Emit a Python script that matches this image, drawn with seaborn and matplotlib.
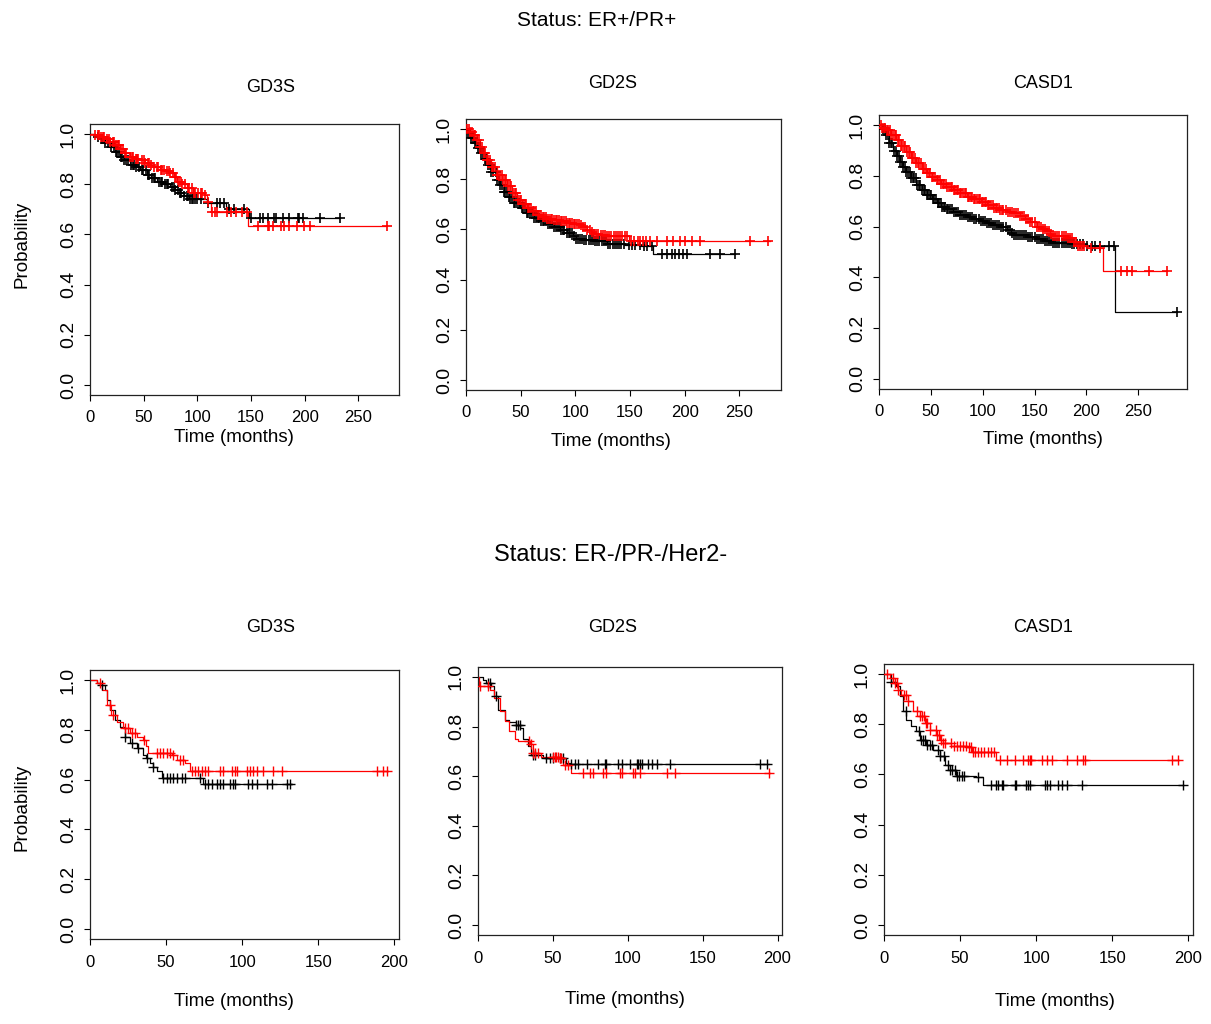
import numpy as np
import pandas as pd
import matplotlib
matplotlib.use("Agg")
import matplotlib.pyplot as plt
import seaborn as sns

# ---- Kaplan-Meier curves (knot times, survival, censor times) ----
# Status ER+/PR+ : GD3S
gd3s_pos_black_t = [0, 5, 10, 14, 18.6, 23, 28, 32, 37, 42, 46.6, 52.8, 57, 62, 68, 74.5, 79, 84, 88, 92, 109, 127, 130, 148.4, 233]
gd3s_pos_black_s = [1.0, 0.99, 0.98, 0.965, 0.95, 0.93, 0.91, 0.895, 0.878, 0.867, 0.858, 0.838, 0.825, 0.81, 0.80, 0.79, 0.778, 0.765, 0.752, 0.74, 0.725, 0.71, 0.70, 0.664, 0.664]
gd3s_pos_black_c = [7, 11, 14, 17, 20, 22, 24, 25, 27, 29, 30, 32, 34, 35, 38, 40, 41, 43, 46, 48, 49, 52, 54, 55, 58, 60, 61, 64, 66, 67, 70, 72, 73, 76,
                    78, 79, 82, 84, 85, 88, 90, 91, 93, 95, 96, 98, 100, 103, 110, 118, 121, 125, 130, 134, 144, 149.7, 158.4, 161.5, 166.1, 171.4,
                    173.3, 179.5, 185.7, 193.5, 195, 198.8, 214.3, 232.9]
gd3s_pos_red_t = [0, 5, 9, 14, 18.6, 23, 28, 32, 37, 42, 46.6, 51, 56, 60, 65, 70, 74.5, 78, 81, 86, 90, 96, 106, 109, 113, 147.5, 276]
gd3s_pos_red_s = [1.0, 0.995, 0.99, 0.98, 0.97, 0.955, 0.94, 0.925, 0.91, 0.90, 0.895, 0.885, 0.878, 0.868, 0.858, 0.852, 0.845, 0.83, 0.81, 0.80, 0.785, 0.765, 0.758, 0.73, 0.69, 0.632, 0.632]
gd3s_pos_red_c = [5, 7, 8, 10, 12, 13, 16, 18, 19, 21, 22, 24, 26, 27, 29, 31, 33, 34, 37, 39, 40, 43, 44, 45, 48, 50, 51, 54, 55, 57, 60, 62, 63, 66, 67,
                  69, 72, 74, 75, 77, 79, 80, 83, 85, 86, 89, 91, 92, 95, 97, 98, 101, 103, 104, 107, 110, 114, 116.5, 118.6, 127.3, 131.4, 135.7,
                  141.3, 146, 156.8, 165.5, 167.1, 170.8, 178, 181.1, 185.7, 192.5, 199.7, 205, 276.4]

# Status ER+/PR+ : GD2S
gd2s_pos_black_t = [0, 1, 4, 7, 10, 13, 16, 19, 23, 28, 31, 34.4, 39, 43.5, 49.6, 55, 61.8, 68, 74, 80, 86, 92, 98, 101, 108, 116.6, 128.8, 145.5, 160, 171, 246]
gd2s_pos_black_s = [1.0, 0.984, 0.965, 0.944, 0.925, 0.904, 0.88, 0.858, 0.83, 0.798, 0.775, 0.751, 0.728, 0.705, 0.685, 0.665, 0.645, 0.632, 0.622, 0.61, 0.598,
                    0.585, 0.572, 0.561, 0.556, 0.552, 0.543, 0.536, 0.532, 0.503, 0.503]
gd2s_pos_black_c = [2, 3.5, 5, 6.5, 8, 9.5, 11, 12.5, 14, 15.5, 17, 18.5, 20, 21.5, 23, 25, 27, 28.5, 30, 31.5, 33, 34.5, 36, 37.5, 39, 40.5, 42, 43.5,
                    45, 46.5, 48, 49.5, 51, 52.5, 54, 55.5, 57, 58.5, 60, 62, 64, 65.5, 67, 68.5, 70, 71.5, 73, 75, 77, 78.5, 80, 82, 84, 85.5, 87,
                    88.5, 90, 92, 94, 95.5, 97, 99, 101, 102.5, 104, 106, 108, 110, 112, 114, 116, 118, 120, 122, 124, 126, 128, 130, 132, 134,
                    136, 138, 140, 142, 144, 148.6, 151.6, 154.7, 159.3, 162.3, 165.3, 170, 179, 183.6, 188.2, 191.2, 194.3, 198.8, 201.9, 223.2,
                    232.3, 246]
gd2s_pos_red_t = [0, 4, 7, 10, 13, 16, 19, 23, 28, 33, 37.5, 42, 46.6, 51, 55.7, 60, 65, 70, 74, 80, 86, 92, 98, 104, 107, 110.5, 114, 117, 123, 129, 148.6, 278]
gd2s_pos_red_s = [1.0, 0.99, 0.977, 0.955, 0.93, 0.905, 0.878, 0.85, 0.818, 0.795, 0.771, 0.745, 0.718, 0.70, 0.685, 0.672, 0.658, 0.648, 0.642, 0.637, 0.632,
                  0.627, 0.622, 0.618, 0.608, 0.598, 0.59, 0.582, 0.576, 0.574, 0.552, 0.552]
gd2s_pos_red_c = [1, 2.5, 4, 5.5, 7, 8.5, 10, 11.5, 13, 14.5, 16, 17.5, 19, 20.5, 22, 23.5, 25, 26.5, 28, 29.5, 31, 32.5, 34, 35.5, 37, 38.5, 40, 41.5,
                  43, 44.5, 46, 47.5, 49, 50.5, 52, 53.5, 55, 56.5, 58, 59.5, 61, 62.5, 64, 65.5, 67, 68.5, 70, 71.5, 73, 74.5, 76, 77.5, 79, 80.5,
                  82, 83.5, 85, 86.5, 88, 89.5, 91, 92.5, 94, 95.5, 97, 98.5, 100, 101.5, 103, 105, 107, 109, 111, 113, 115, 117, 119, 121, 123,
                  125, 127, 129, 131, 133, 135, 137, 139, 141, 143, 145, 147, 151, 154, 157, 159.3, 162, 165, 168.4, 174.5, 183.6, 189.7, 195.8,
                  200.3, 206.4, 214, 259.7, 276.5]

# Status ER+/PR+ : CASD1
casd1_pos_black_t = [0, 3, 7, 10, 13.5, 17, 20, 23, 26.5, 31, 36, 41, 46, 51, 55.5, 60, 65, 71, 78, 85, 91, 98, 104, 110, 117, 123, 127, 130, 142.6, 152,
                     160, 168, 184.5, 200.6, 228, 287]
casd1_pos_black_s = [1.0, 0.985, 0.96, 0.93, 0.90, 0.878, 0.856, 0.836, 0.817, 0.79, 0.764, 0.743, 0.725, 0.707, 0.692, 0.679, 0.668, 0.656, 0.646, 0.637,
                     0.629, 0.622, 0.616, 0.608, 0.60, 0.587, 0.575, 0.567, 0.561, 0.55, 0.543, 0.537, 0.530, 0.524, 0.262, 0.262]
casd1_pos_black_c = [4, 5.5, 7, 8.5, 10, 11.5, 13, 14.5, 16, 17.5, 19, 20.5, 22, 23.5, 25, 26.5, 28, 29.5, 31, 32.5, 34, 35.5, 37, 38.5, 40, 41.5, 43,
                     44.5, 46, 47.5, 49, 50.5, 52, 53.5, 55, 56.5, 58, 59.5, 61, 62.5, 64, 65.5, 67, 68.5, 70, 72, 74, 76, 78, 80, 82, 84, 86, 88, 90,
                     92, 94, 96, 98, 100, 102, 104, 106, 108, 110, 112, 114, 116, 118, 120, 122, 124, 126, 128, 130, 132, 134, 136, 138, 140, 142,
                     144, 146, 148, 150, 152, 154, 156, 158, 160, 162, 164, 166, 168, 170, 172, 174, 176, 178, 180, 182, 184, 186, 188, 191, 194,
                     197, 200.6, 205.5, 208.7, 213.5, 221.6, 227, 287]
casd1_pos_red_t = [0, 3, 7, 12, 16.8, 21, 26.5, 31, 36, 41, 46, 51, 55.5, 60, 65, 71, 78, 85, 91, 98, 104, 110, 117, 123, 130, 136, 141, 146, 152, 157,
                   162, 165, 168, 181, 187, 191, 200, 216, 278]
casd1_pos_red_s = [1.0, 0.99, 0.98, 0.96, 0.941, 0.918, 0.895, 0.872, 0.849, 0.828, 0.81, 0.796, 0.784, 0.77, 0.757, 0.744, 0.731, 0.718, 0.708, 0.696,
                   0.685, 0.675, 0.666, 0.659, 0.653, 0.642, 0.632, 0.62, 0.60, 0.59, 0.581, 0.57, 0.564, 0.554, 0.54, 0.522, 0.515, 0.427, 0.427]
casd1_pos_red_c = [1.5, 3, 4.5, 6, 7.5, 9, 10.5, 12, 13.5, 15, 16.5, 18, 19.5, 21, 22.5, 24, 25.5, 27, 28.5, 30, 31.5, 33, 34.5, 36, 37.5, 39, 40.5,
                   42, 43.5, 45, 46.5, 48, 49.5, 51, 52.5, 54, 55.5, 57, 58.5, 60, 61.5, 63, 64.5, 66, 67.5, 69, 70.5, 72, 73.5, 75, 76.5, 78, 79.5,
                   81, 82.5, 84, 85.5, 87, 88.5, 90, 91.5, 93, 94.5, 96, 97.5, 99, 100.5, 102, 103.5, 105, 106.5, 108, 109.5, 111, 112.5, 114,
                   115.5, 117, 118.5, 120, 122, 124, 126, 128, 130, 132, 134, 136, 138, 140, 142, 144, 146, 148, 150, 152, 154, 156, 158, 160,
                   162, 164, 166, 168, 170, 172, 174, 176, 178, 180, 182, 184, 186, 188, 190, 192, 194, 196, 198, 204, 213.5, 233, 239, 244, 260,
                   278]

# Status ER-/PR-/Her2- : GD3S
gd3s_neg_black_t = [0, 4.4, 6.6, 9.9, 11, 13, 16.4, 19.7, 23, 26.3, 30.7, 35, 37, 39.4, 41.5, 43.8, 47, 74.5, 132.5]
gd3s_neg_black_s = [1.0, 0.987, 0.98, 0.96, 0.92, 0.88, 0.84, 0.813, 0.773, 0.746, 0.727, 0.70, 0.685, 0.666, 0.65, 0.633, 0.605, 0.582, 0.582]
gd3s_neg_black_c = [7.7, 23, 27.4, 31.8, 37.2, 41.6, 48.2, 50.4, 52.6, 54.8, 57, 60.2, 62.4, 72.3, 75.6, 77.8, 80, 83.2, 85.4, 87.6, 92, 94.2, 95.3,
                    104, 106.2, 109.5, 116.1, 119.4, 129.2, 131.4]
gd3s_neg_red_t = [0, 4.4, 7.7, 11, 14, 17.5, 22, 26.3, 30.7, 35, 37, 38, 53.7, 57, 62.4, 65.7, 196]
gd3s_neg_red_s = [1.0, 0.987, 0.96, 0.90, 0.86, 0.833, 0.806, 0.786, 0.773, 0.76, 0.733, 0.706, 0.70, 0.68, 0.666, 0.636, 0.636]
gd3s_neg_red_c = [6.6, 13.1, 15.3, 23, 25.2, 27.4, 29.6, 35.5, 43.8, 46, 48.2, 50.4, 52.6, 54.8, 59.1, 61.3, 66.8, 69, 71.2, 73.4, 75.6, 77.8, 85.4,
                  87.6, 93, 95.3, 96.4, 103, 105.1, 107.3, 109.5, 113.9, 120.5, 126, 188.4, 192.8, 195]

# Status ER-/PR-/Her2- : GD2S
gd2s_neg_black_t = [0, 3.3, 5.6, 9, 11, 13.4, 17.8, 21, 25.6, 28, 30, 33.4, 35.7, 43.5, 59, 61.3, 194]
gd2s_neg_black_s = [1.0, 0.989, 0.976, 0.962, 0.922, 0.868, 0.828, 0.817, 0.808, 0.795, 0.748, 0.721, 0.687, 0.674, 0.654, 0.65, 0.65]
gd2s_neg_black_c = [6.7, 7.8, 12.3, 25.6, 26.8, 27.9, 36.8, 37.9, 45.7, 47.9, 50.2, 54.6, 56.9, 62.4, 64.7, 66.9, 72.5, 80.3, 84.7, 85.8, 93.7, 95.9,
                    101.4, 105.9, 107, 108.1, 109.3, 113.7, 115.9, 119.3, 128.2, 188.4, 192.9]
gd2s_neg_red_t = [0, 0.5, 7.8, 11, 14.5, 17.8, 21, 24.5, 26.8, 34.6, 36.8, 42.4, 54.6, 56.9, 62.4, 195]
gd2s_neg_red_s = [1.0, 0.962, 0.949, 0.916, 0.862, 0.821, 0.781, 0.75, 0.741, 0.728, 0.694, 0.678, 0.674, 0.647, 0.613, 0.613]
gd2s_neg_red_c = [1.5, 6.5, 34, 35.7, 36.8, 37.9, 40.1, 50.2, 51.3, 52.4, 53.5, 54.6, 55.7, 58, 60.2, 70.2, 74.7, 76.9, 83.6, 85.8, 94.8, 95.9, 103.7,
                  104.8, 108.1, 126, 131.5, 194.6]

# Status ER-/PR-/Her2- : CASD1
casd1_neg_black_t = [0, 4.8, 8, 10.3, 12.5, 14.7, 18, 21.3, 23.5, 27.9, 32.2, 36.6, 39.9, 43.2, 47.6, 60.7, 65, 196.7]
casd1_neg_black_s = [1.0, 0.97, 0.951, 0.911, 0.851, 0.818, 0.791, 0.771, 0.738, 0.718, 0.698, 0.672, 0.638, 0.618, 0.594, 0.59, 0.556, 0.556]
casd1_neg_black_c = [4.8, 14.2, 23, 24, 25.5, 27, 28.5, 30, 31.5, 35.5, 36.6, 39.5, 42, 43.5, 45, 46.5, 48, 49.5, 51, 52.5, 61.8, 70.6, 73.9, 75, 77.2,
                     78.3, 86, 87, 93.6, 94.7, 95.8, 105.7, 106.8, 109, 114.5, 116.7, 120, 129.8, 196.7]
casd1_neg_red_t = [0, 3.7, 7, 9.2, 11.4, 15.8, 19.1, 23.5, 26.8, 30, 34.4, 36.6, 38.8, 44.3, 54.2, 57.5, 73.9, 194]
casd1_neg_red_s = [1.0, 0.984, 0.964, 0.938, 0.918, 0.891, 0.851, 0.831, 0.805, 0.778, 0.758, 0.738, 0.725, 0.714, 0.711, 0.688, 0.658, 0.658]
casd1_neg_red_c = [2, 6, 7.5, 8.5, 9.5, 13, 14.5, 16, 22, 23.5, 25, 26.5, 27.5, 28.5, 30, 34, 35, 36, 37.5, 39, 40, 44, 46, 48, 50, 52, 54, 56, 57,
                   58.5, 60, 62, 64, 66, 68, 70, 72.5, 76.1, 80.5, 86, 91.4, 94.7, 95.8, 96.9, 103.5, 106.8, 110.1, 120, 126.5, 130.9, 132, 189, 193.4]

gene_names = ["GD3S", "GD2S", "CASD1"]
status_titles = ["Status: ER+/PR+", "Status: ER-/PR-/Her2-"]

plt.rcParams["font.family"] = ["Liberation Sans", "DejaVu Sans"]

W, H = 1211, 1024
fig = plt.figure(figsize=(W / 100, H / 100), dpi=100)
fig.patch.set_facecolor("white")

# panel boxes in pixels: left, right, top, bottom
boxes = [
    (90, 399, 124, 395), (466, 781, 119, 390), (879, 1187, 115, 389),
    (90, 399, 670, 939), (478, 782, 667, 935), (884, 1193, 664, 935),
]
xmaxes = [288, 288, 297, 203, 203, 203]
title_xy = [(271, 88), (613, 84), (1043, 84), (271, 628), (613, 628), (1043, 628)]
xlabel_xy = [(234, 438), (611, 441), (1043, 440), (234, 1002), (625, 1000), (1055, 1001)]

curves = [
    (gd3s_pos_black_t, gd3s_pos_black_s, gd3s_pos_black_c, gd3s_pos_red_t, gd3s_pos_red_s, gd3s_pos_red_c),
    (gd2s_pos_black_t, gd2s_pos_black_s, gd2s_pos_black_c, gd2s_pos_red_t, gd2s_pos_red_s, gd2s_pos_red_c),
    (casd1_pos_black_t, casd1_pos_black_s, casd1_pos_black_c, casd1_pos_red_t, casd1_pos_red_s, casd1_pos_red_c),
    (gd3s_neg_black_t, gd3s_neg_black_s, gd3s_neg_black_c, gd3s_neg_red_t, gd3s_neg_red_s, gd3s_neg_red_c),
    (gd2s_neg_black_t, gd2s_neg_black_s, gd2s_neg_black_c, gd2s_neg_red_t, gd2s_neg_red_s, gd2s_neg_red_c),
    (casd1_neg_black_t, casd1_neg_black_s, casd1_neg_black_c, casd1_neg_red_t, casd1_neg_red_s, casd1_neg_red_c),
]


def surv_at(t, s, c):
    t = np.asarray(t)
    s = np.asarray(s)
    idx = np.searchsorted(t, np.asarray(c), side="right") - 1
    return s[np.clip(idx, 0, len(s) - 1)]


for i, (l, r, tp, bt) in enumerate(boxes):
    ax = fig.add_axes([l / W, 1 - bt / H, (r - l) / W, (bt - tp) / H])
    bt_, bs_, bc_, rt_, rs_, rc_ = curves[i]
    mlw = 1.2 if i < 3 else 1.0
    for t, s, c, col in [(bt_, bs_, bc_, "black"), (rt_, rs_, rc_, "#ff0000")]:
        df = pd.DataFrame({"time": t, "surv": s})
        sns.lineplot(data=df, x="time", y="surv", drawstyle="steps-post", color=col,
                     linewidth=0.9, estimator=None, sort=False, ax=ax)
        cdf = pd.DataFrame({"time": c, "surv": surv_at(t, s, c)})
        sns.scatterplot(data=cdf, x="time", y="surv", marker="+", s=45, color=col,
                        linewidth=mlw, ax=ax, zorder=3)
    ax.set_xlim(0, xmaxes[i])
    ax.set_ylim(-0.04, 1.04)
    xt = [0, 50, 100, 150, 200, 250] if i < 3 else [0, 50, 100, 150, 200]
    ax.set_xticks(xt)
    ax.set_xticklabels([str(v) for v in xt], fontsize=12)
    yt = [0.0, 0.2, 0.4, 0.6, 0.8, 1.0]
    ax.set_yticks(yt)
    ax.set_yticklabels([f"{v:.1f}" for v in yt], fontsize=14, rotation=90, va="center")
    pad_x = 6 if i < 3 else 7
    ax.tick_params(axis="x", direction="out", length=4.5, width=0.8, pad=pad_x, colors="black")
    ax.tick_params(axis="y", direction="out", length=4.5, width=0.8, pad=5, colors="black")
    ax.set_xlabel("")
    ax.set_ylabel("")
    for sp in ax.spines.values():
        sp.set_color("#222222")
        sp.set_linewidth(0.9)
    ax.set_facecolor("white")
    tx, ty = title_xy[i]
    fig.text(tx / W, 1 - ty / H, gene_names[i % 3], ha="center", va="center", fontsize=13)
    lx, ly = xlabel_xy[i]
    fig.text(lx / W, 1 - ly / H, "Time (months)", ha="center", va="center", fontsize=13.5)
    if i % 3 == 0:
        ax_mid = 244 if i == 0 else 807
        fig.text(22 / W, 1 - ax_mid / H, "Probability", rotation=90, ha="center", va="center", fontsize=13.5)

fig.text(597 / W, 1 - 20 / H, status_titles[0], ha="center", va="center", fontsize=15)
fig.text(611 / W, 1 - 555 / H, status_titles[1], ha="center", va="center", fontsize=17)

fig.savefig("out.png", dpi=100, facecolor="white")
